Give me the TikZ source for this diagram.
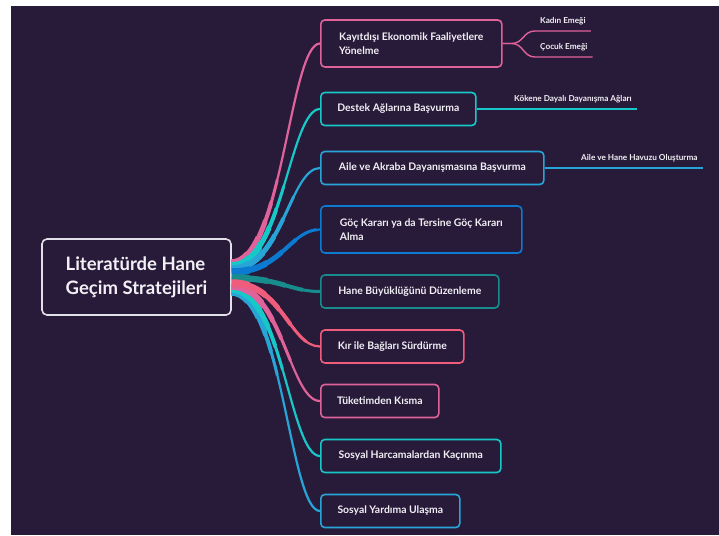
\documentclass[tikz,border=0pt]{standalone}
\usepackage{fontspec}
\setmainfont{Lato}
\usetikzlibrary{calc}

\definecolor{bgdark}{RGB}{40,27,58}
\definecolor{rootline}{RGB}{226,224,232}
\definecolor{mmpink}{RGB}{224,98,154}
\definecolor{mmrose}{RGB}{240,92,124}
\definecolor{mmcyan}{RGB}{22,200,200}
\definecolor{mmblue}{RGB}{40,165,215}
\definecolor{mmdeep}{RGB}{12,122,208}
\definecolor{mmteal}{RGB}{24,140,140}
\definecolor{mmtext}{RGB}{242,240,245}

% tapered branch: colour, offset at the root, target node
\newcommand{\branch}[3]{%
  \foreach \r/\w in {18/7.5,36/6.2,54/5,72/4,95/3,600/2.2}{
    \begin{scope}
      \clip ($(root.east)+(0,#2)$) circle[radius=\r pt];
      \draw[#1,line width=\w pt] ($(root.east)+(0,#2)$) .. controls +(50,0) and +(-30,0) .. (#3.west);
    \end{scope}
  }%
}

\begin{document}
\begin{tikzpicture}[x=1pt,y=-1pt,
  rootbox/.style={draw=rootline,line width=1.6pt,rounded corners=5pt,fill=bgdark,text=mmtext,
    font=\bfseries\fontsize{18.5}{24}\selectfont,align=left,minimum width=189pt,minimum height=76pt},
  box/.style={draw,line width=1.6pt,rounded corners=4pt,fill=bgdark,text=mmtext,
    font=\bfseries\fontsize{10.4}{14}\selectfont,align=left,inner xsep=14pt,
    minimum height=33pt,anchor=west},
  leaf/.style={text=mmtext,font=\bfseries\fontsize{8.2}{9}\selectfont,
    inner xsep=5pt,inner ysep=7pt,text depth=0pt,anchor=south west},
  twig/.style={line width=1.4pt}]

% Background
\fill[white] (0,0) rectangle (719,535);
\fill[bgdark] (11,6) rectangle (719,535);
\useasboundingbox (0,0) rectangle (719,535);

% Root
\node[rootbox] (root) at (136.5,277) {Literatürde Hane\\Geçim Stratejileri};

% Strategies
\node[box,draw=mmpink,minimum width=181pt,minimum height=47pt] (kayit) at (320,43.5) {Kayıtdışı Ekonomik Faaliyetlere\\Yönelme};
\node[box,draw=mmcyan,minimum width=155pt] (destek) at (320,109) {Destek Ağlarına Başvurma};
\node[box,draw=mmblue,minimum width=223pt] (aile) at (320,168) {Aile ve Akraba Dayanışmasına Başvurma};
\node[box,draw=mmdeep,minimum width=201pt,minimum height=47pt] (goc) at (320,229.5) {Göç Kararı ya da Tersine Göç Kararı\\Alma};
\node[box,draw=mmteal,minimum width=178pt] (hane) at (320,291.5) {Hane Büyüklüğünü Düzenleme};
\node[box,draw=mmrose,minimum width=143pt] (kir) at (320,346.5) {Kır ile Bağları Sürdürme};
\node[box,draw=mmpink,minimum width=118pt] (tuketim) at (320,401) {Tüketimden Kısma};
\node[box,draw=mmcyan,minimum width=180pt] (harcama) at (320,456) {Sosyal Harcamalardan Kaçınma};
\node[box,draw=mmblue,minimum width=139pt] (yardim) at (320,511) {Sosyal Yardıma Ulaşma};

% Branches from the root
\branch{mmpink}{-14}{kayit}
\branch{mmcyan}{-11}{destek}
\branch{mmblue}{-8}{aile}
\branch{mmdeep}{-5}{goc}
\branch{mmteal}{1}{hane}
\branch{mmblue}{15}{yardim}
\branch{mmcyan}{12}{harcama}
\branch{mmpink}{9}{tuketim}
\branch{mmrose}{6}{kir}

% Sub-topics
\node[leaf] (kadin) at (535,31) {Kadın Emeği};
\node[leaf] (cocuk) at (535,57) {Çocuk Emeği};
\node[leaf] (koken) at (509,109) {Kökene Dayalı Dayanışma Ağları};
\node[leaf] (havuz) at (576,168) {Aile ve Hane Havuzu Oluşturma};

\draw[twig,mmpink] (kayit.east) -- ++(9,0) .. controls +(12,0) and +(-12,0) .. (kadin.south west) -- (kadin.south east);
\draw[twig,mmpink] (kayit.east) -- ++(9,0) .. controls +(12,0) and +(-12,0) .. (cocuk.south west) -- (cocuk.south east);
\draw[twig,mmcyan] (destek.east) -- (koken.south east);
\draw[twig,mmblue] (aile.east) -- (havuz.south east);
\end{tikzpicture}
\end{document}
